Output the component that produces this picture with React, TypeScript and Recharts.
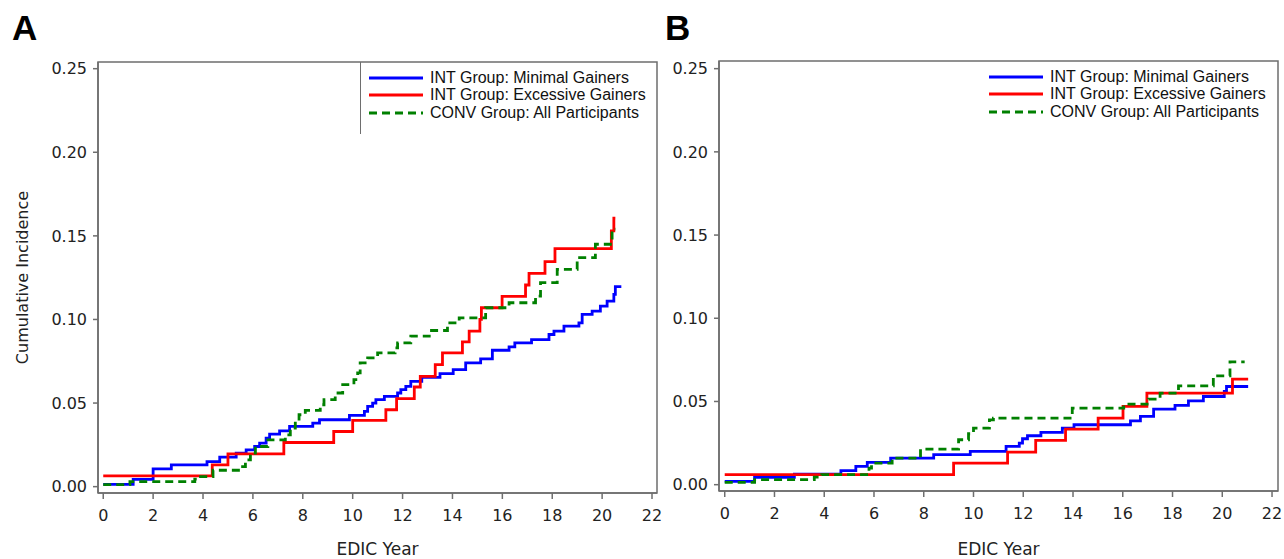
import React from 'react';
import { LineChart, Line, XAxis, YAxis, Legend, ReferenceArea } from 'recharts';

const X_TICKS = [0, 2, 4, 6, 8, 10, 12, 14, 16, 18, 20, 22];
const Y_TICKS = [0, 0.05, 0.1, 0.15, 0.2, 0.25];
const SERIES_NAMES = [
  'INT Group: Minimal Gainers',
  'INT Group: Excessive Gainers',
  'CONV Group: All Participants',
];
const COLORS = ['#0000ff', '#ff0000', '#008000'];

// Panel A
const A_MIN_T = [0, 1.2, 2.0, 2.73, 4.16, 4.67, 5.33, 5.73, 6.07, 6.27, 6.53, 6.67, 7.07, 7.47, 8.4, 8.67, 9.87, 10.47, 10.6, 10.8, 10.93, 11.27, 11.8, 11.93, 12.13, 12.33, 12.77, 13.5, 14.03, 14.53, 15.13, 15.6, 16.27, 16.5, 17.17, 17.87, 18.07, 18.47, 19.07, 19.2, 19.6, 19.93, 20.2, 20.47, 20.53, 20.77];
const A_MIN_V = [0.0014, 0.0044, 0.0106, 0.013, 0.015, 0.0176, 0.02, 0.022, 0.024, 0.026, 0.029, 0.0314, 0.0334, 0.036, 0.038, 0.04, 0.0426, 0.045, 0.048, 0.05, 0.052, 0.054, 0.056, 0.058, 0.06, 0.063, 0.0654, 0.0676, 0.07, 0.074, 0.0764, 0.0816, 0.0836, 0.086, 0.088, 0.091, 0.093, 0.096, 0.098, 0.103, 0.105, 0.108, 0.111, 0.115, 0.1196, 0.1196];

const A_EXC_T = [0, 4.37, 5.0, 7.24, 9.24, 10.0, 11.33, 11.76, 12.47, 12.71, 13.31, 13.6, 14.4, 14.67, 15.1, 15.16, 15.99, 16.93, 17.07, 17.71, 18.11, 20.37, 20.47, 20.53];
const A_EXC_V = [0.0064, 0.013, 0.0196, 0.0264, 0.033, 0.0396, 0.046, 0.0526, 0.0596, 0.066, 0.073, 0.08, 0.0866, 0.093, 0.1, 0.107, 0.1138, 0.1206, 0.1276, 0.1346, 0.1424, 0.153, 0.1606, 0.1606];

const A_CONV_T = [0, 1.07, 3.67, 3.9, 4.4, 5.5, 5.7, 5.9, 6.1, 6.6, 7.3, 7.5, 7.7, 7.85, 8.1, 8.7, 8.85, 9.3, 9.6, 10.05, 10.2, 10.3, 10.6, 11.0, 11.7, 11.8, 12.33, 13.07, 13.8, 14.27, 15.33, 16.27, 17.33, 17.53, 18.2, 19.0, 19.73, 20.4, 20.53];
const A_CONV_V = [0.0012, 0.003, 0.0045, 0.006, 0.0098, 0.012, 0.016, 0.02, 0.024, 0.028, 0.031, 0.035, 0.039, 0.043, 0.0456, 0.049, 0.052, 0.056, 0.061, 0.064, 0.068, 0.074, 0.077, 0.08, 0.083, 0.086, 0.09, 0.0934, 0.098, 0.101, 0.107, 0.11, 0.114, 0.122, 0.13, 0.137, 0.145, 0.154, 0.154];

// Panel B
const B_MIN_T = [0, 1.2, 2.8, 4.67, 5.27, 5.73, 6.67, 8.4, 9.87, 11.31, 11.84, 11.97, 12.17, 12.71, 13.57, 14.04, 16.31, 16.71, 17.24, 18.1, 18.64, 19.24, 20.08, 20.17, 21.04];
const B_MIN_V = [0.002, 0.0044, 0.0064, 0.0084, 0.011, 0.0134, 0.016, 0.018, 0.02, 0.023, 0.025, 0.0276, 0.0294, 0.0314, 0.034, 0.036, 0.0384, 0.041, 0.0454, 0.0476, 0.0504, 0.053, 0.056, 0.059, 0.059];

const B_EXC_T = [0, 9.2, 11.37, 12.5, 13.7, 15.01, 16.01, 16.97, 20.41, 21.04];
const B_EXC_V = [0.006, 0.013, 0.0196, 0.0266, 0.0334, 0.04, 0.047, 0.055, 0.0634, 0.0634];

const B_CONV_T = [0, 1.2, 3.6, 3.9, 5.8, 5.9, 6.73, 7.87, 9.4, 9.8, 10.0, 10.64, 10.8, 13.97, 16.04, 17.04, 17.5, 18.24, 19.64, 20.31, 20.9];
const B_CONV_V = [0.0014, 0.003, 0.0045, 0.006, 0.01, 0.013, 0.016, 0.0214, 0.027, 0.0306, 0.034, 0.039, 0.04, 0.046, 0.0484, 0.0514, 0.055, 0.0594, 0.0654, 0.0738, 0.0738];

const toPoints = (t: number[], v: number[]) => t.map((x, i) => ({ t: x, v: v[i] }));

const FRAME = '#6e6e6e';
const TICK_FONT = { fontSize: 16, fill: '#222', fontFamily: 'DejaVu Sans' };

function LegendBox({ border }: { border: boolean }) {
  return (
    <div
      style={{
        width: 297,
        height: 72,
        boxSizing: 'border-box',
        paddingTop: 7,
        paddingLeft: 8,
        borderLeft: border ? `1px solid ${FRAME}` : 'none',
        fontFamily: '"Liberation Sans", Arial, sans-serif',
        fontSize: 16,
        color: '#111',
        textAlign: 'left',
        whiteSpace: 'nowrap',
      }}
    >
      {SERIES_NAMES.map((name, i) => (
        <div key={name} style={{ display: 'flex', alignItems: 'center', height: 17.5 }}>
          <svg width={54} height={6} style={{ marginRight: 7, flex: 'none' }}>
            <line
              x1={0}
              y1={3}
              x2={54}
              y2={3}
              stroke={COLORS[i]}
              strokeWidth={2.8}
              strokeDasharray={i === 2 ? '8 5' : undefined}
            />
          </svg>
          <span>{name}</span>
        </div>
      ))}
    </div>
  );
}

interface PanelProps {
  series: { t: number; v: number }[][];
  left: number;
  width: number;
  yAxisWidth: number;
  top: number;
  xAxisHeight: number;
  right: number;
  xDomain: [number, number];
  yDomain: [number, number];
  yLabel?: string;
  legendLeft: number;
  legendBorder: boolean;
}

function Panel(p: PanelProps) {
  return (
    <div style={{ position: 'absolute', left: p.left, top: 0 }}>
      <LineChart width={p.width} height={559} margin={{ top: p.top, right: p.right, bottom: 0, left: 0 }}>
        <XAxis
          type="number"
          dataKey="t"
          domain={p.xDomain}
          ticks={X_TICKS}
          allowDataOverflow
          height={p.xAxisHeight}
          tick={TICK_FONT}
          tickSize={6}
          tickMargin={11}
          axisLine={{ stroke: FRAME, strokeWidth: 1.5 }}
          tickLine={{ stroke: FRAME, strokeWidth: 1.5 }}
          label={{
            value: 'EDIC Year',
            position: 'insideBottom',
            offset: 4,
            style: { fontSize: 17, fill: '#222', fontFamily: 'DejaVu Sans' },
          }}
        />
        <YAxis
          type="number"
          domain={p.yDomain}
          ticks={Y_TICKS}
          allowDataOverflow
          width={p.yAxisWidth}
          tick={TICK_FONT}
          tickSize={5}
          tickMargin={6}
          tickFormatter={(v: number) => v.toFixed(2)}
          axisLine={{ stroke: FRAME, strokeWidth: 1.5 }}
          tickLine={{ stroke: FRAME, strokeWidth: 1.5 }}
          label={
            p.yLabel
              ? {
                  value: p.yLabel,
                  angle: -90,
                  position: 'center',
                  dx: -27,
                  style: { fontSize: 16, fill: '#222', fontFamily: 'DejaVu Sans', textAnchor: 'middle' },
                }
              : undefined
          }
        />
        <ReferenceArea
          x1={p.xDomain[0]}
          x2={p.xDomain[1]}
          y1={p.yDomain[0]}
          y2={p.yDomain[1]}
          fill="none"
          fillOpacity={0}
          stroke={FRAME}
          strokeWidth={1.5}
          ifOverflow="visible"
        />
        <Legend
          layout="vertical"
          align="center"
          verticalAlign="middle"
          wrapperStyle={{ left: p.legendLeft, top: p.top, width: 297, height: 72 }}
          content={() => <LegendBox border={p.legendBorder} />}
        />
        {p.series.map((d, i) => (
          <Line
            key={SERIES_NAMES[i]}
            data={d}
            dataKey="v"
            name={SERIES_NAMES[i]}
            type="stepAfter"
            stroke={COLORS[i]}
            strokeWidth={2.8}
            strokeDasharray={i === 2 ? '8 5' : undefined}
            dot={false}
            activeDot={false}
            isAnimationActive={false}
          />
        ))}
      </LineChart>
    </div>
  );
}

const labelStyle: React.CSSProperties = {
  position: 'absolute',
  top: 10,
  fontFamily: '"Liberation Sans", Arial, sans-serif',
  fontWeight: 'bold',
  fontSize: 35,
  lineHeight: '35px',
  color: '#000',
};

export default function App() {
  return (
    <div
      style={{
        position: 'absolute',
        left: 0,
        top: 0,
        width: 1284,
        height: 559,
        background: '#fff',
        overflow: 'hidden',
      }}
    >
      <Panel
        series={[toPoints(A_MIN_T, A_MIN_V), toPoints(A_EXC_T, A_EXC_V), toPoints(A_CONV_T, A_CONV_V)]}
        left={0}
        width={672}
        yAxisWidth={98}
        top={62}
        xAxisHeight={66}
        right={15}
        xDomain={[-0.21, 22.2]}
        yDomain={[-0.0038, 0.254]}
        yLabel="Cumulative Incidence"
        legendLeft={360}
        legendBorder={true}
      />
      <Panel
        series={[toPoints(B_MIN_T, B_MIN_V), toPoints(B_EXC_T, B_EXC_V), toPoints(B_CONV_T, B_CONV_V)]}
        left={620}
        width={664}
        yAxisWidth={99}
        top={61}
        xAxisHeight={68}
        right={6}
        xDomain={[-0.23, 22.24]}
        yDomain={[-0.0038, 0.2546]}
        legendLeft={361}
        legendBorder={false}
      />
      <div style={{ ...labelStyle, left: 12 }}>A</div>
      <div style={{ ...labelStyle, left: 665 }}>B</div>
    </div>
  );
}
